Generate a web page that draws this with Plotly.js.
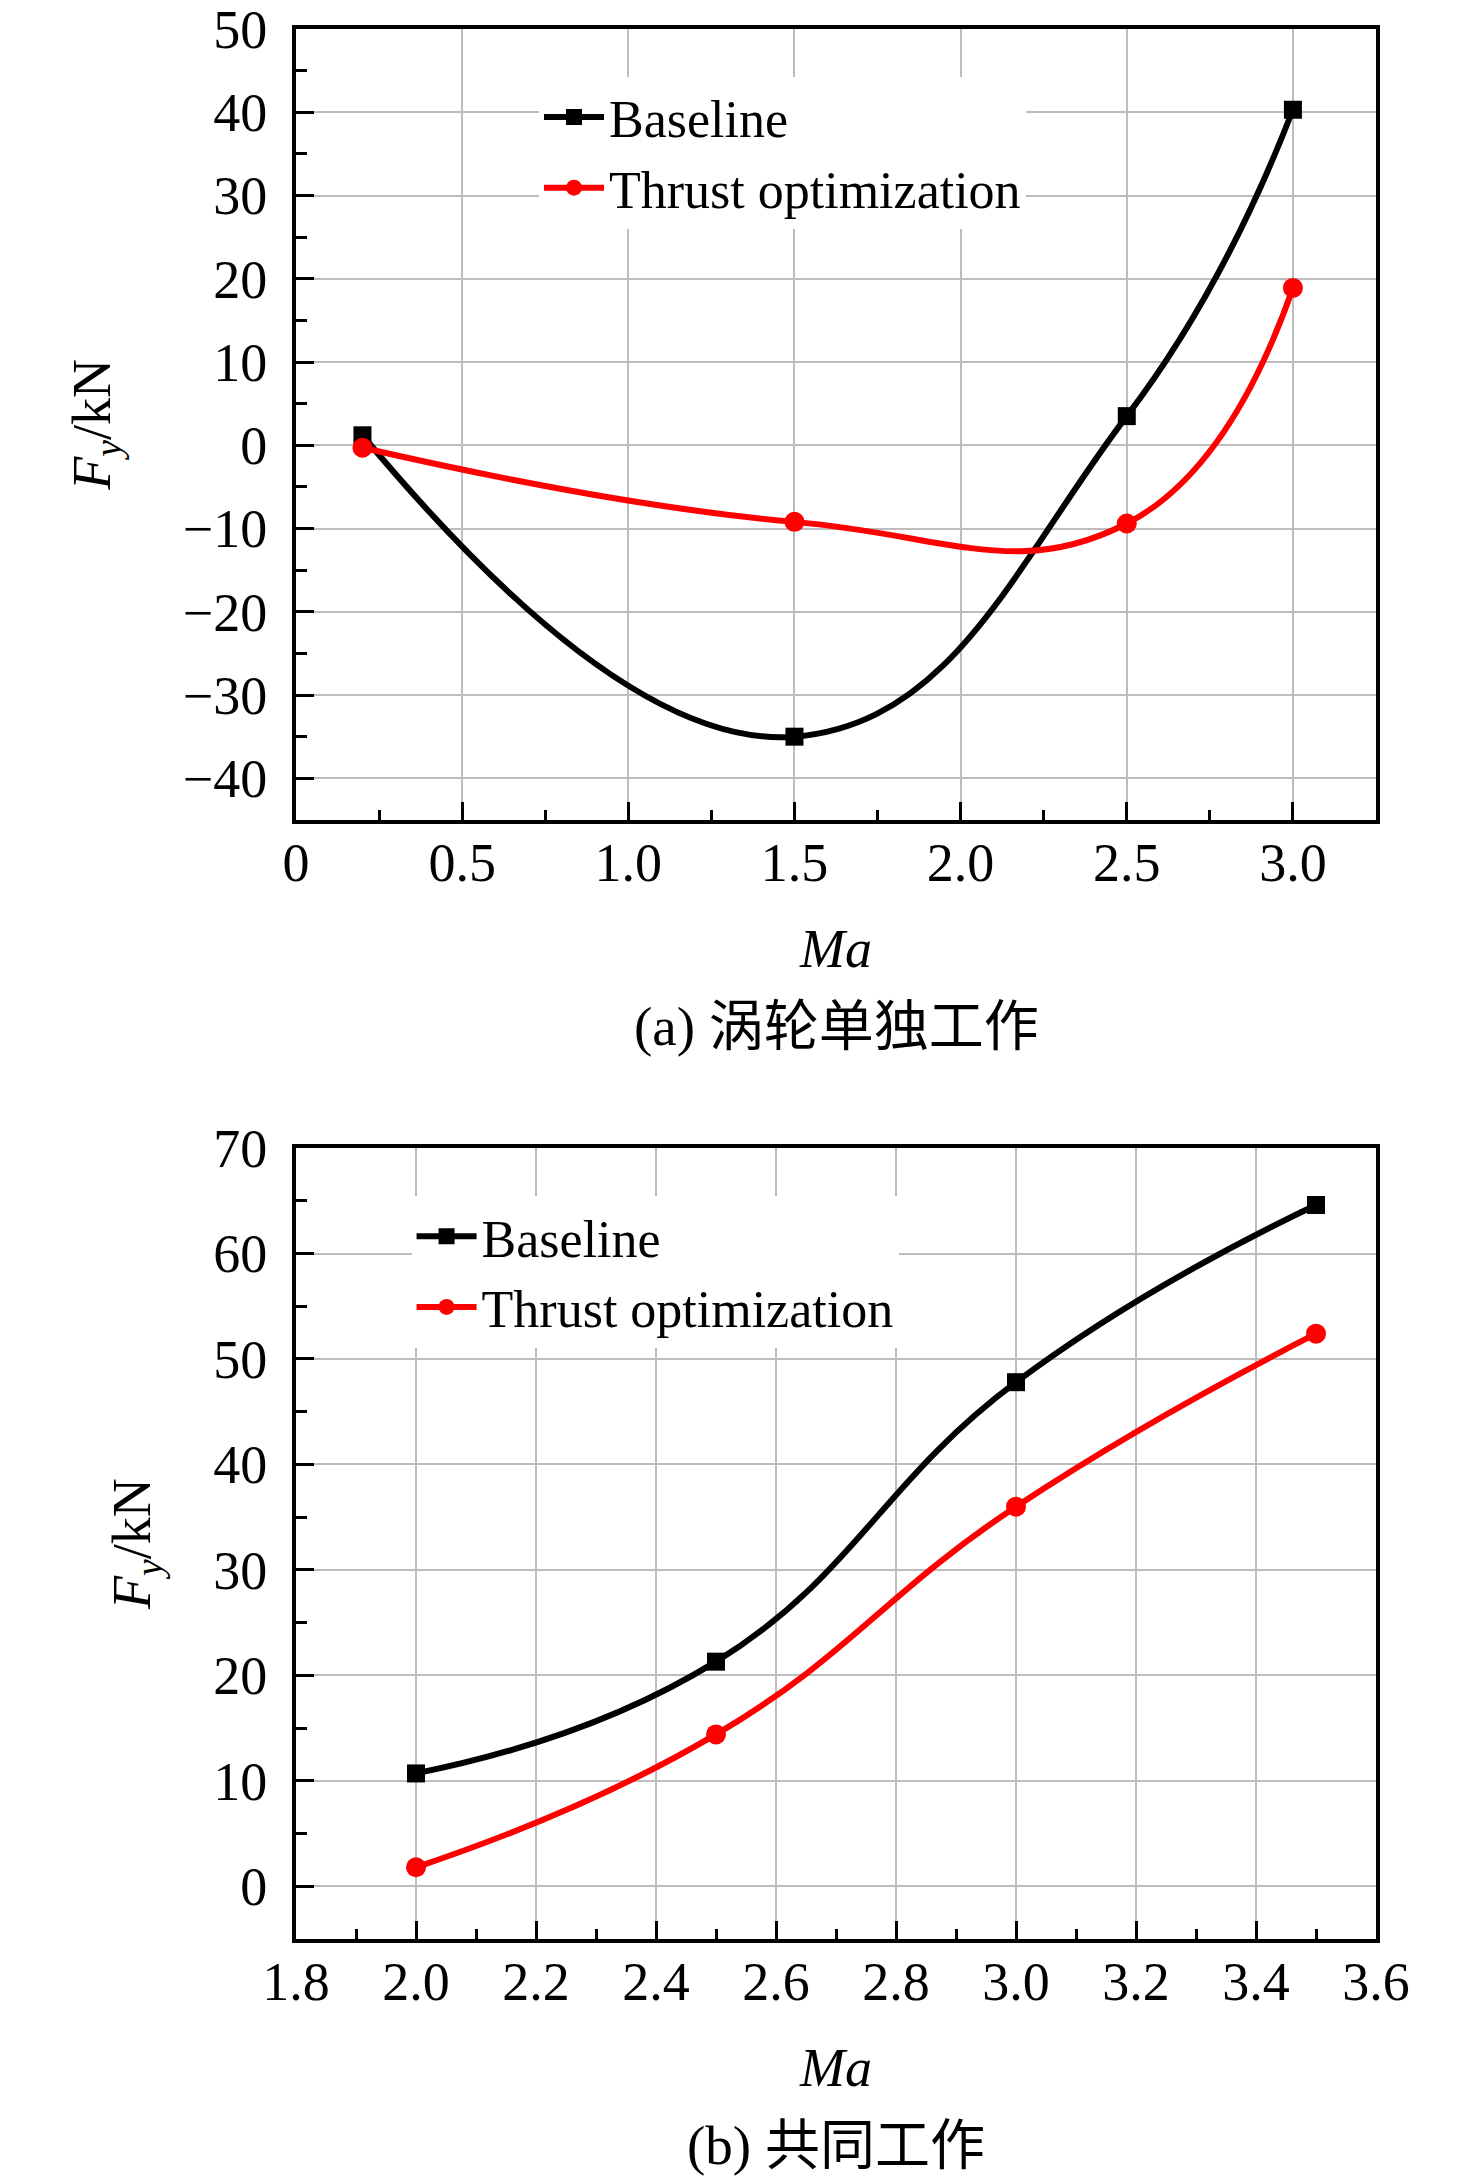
<!DOCTYPE html>
<html>
<head>
<meta charset="utf-8">
<script src="https://cdn.plot.ly/plotly-3.0.1.min.js"></script>
<style>
  body { margin: 0; background: #fff; }
  #chart { width: 1476px; height: 2180px; }
</style>
</head>
<body>
<div id="chart"></div>
<script>
// (a) turbine working alone
var maA = [0.2, 1.5, 2.5, 3.0];
var baselineA = [1.2, -35.0, 3.5, 40.3];
var thrustA = [-0.3, -9.2, -9.4, 18.9];

// (b) working together
var maB = [2.0, 2.5, 3.0, 3.5];
var baselineB = [10.7, 21.3, 47.8, 64.6];
var thrustB = [1.8, 14.4, 36.0, 52.4];

var xTicksA = [0, 0.5, 1.0, 1.5, 2.0, 2.5, 3.0];
var xLabelsA = ["0", "0.5", "1.0", "1.5", "2.0", "2.5", "3.0"];
var yTicksA = [-40, -30, -20, -10, 0, 10, 20, 30, 40, 50];
var yLabelsA = ["\u221240", "\u221230", "\u221220", "\u221210", "0", "10", "20", "30", "40", "50"];

var xTicksB = [1.8, 2.0, 2.2, 2.4, 2.6, 2.8, 3.0, 3.2, 3.4, 3.6];
var xLabelsB = ["1.8", "2.0", "2.2", "2.4", "2.6", "2.8", "3.0", "3.2", "3.4", "3.6"];
var yTicksB = [0, 10, 20, 30, 40, 50, 60, 70];
var yLabelsB = ["0", "10", "20", "30", "40", "50", "60", "70"];

var serif = "Liberation Serif, Times New Roman, serif";
var cjk = "Liberation Serif, Noto Sans CJK SC, serif";

function series(x, y, name, color, symbol, xa, ya, leg) {
    return {
        x: x, y: y, name: name,
        xaxis: xa, yaxis: ya, legend: leg,
        type: "scatter", mode: "lines+markers",
        line: { color: color, width: 6, shape: "spline", smoothing: 1.3 },
        marker: { color: color, symbol: symbol, size: symbol == "square" ? 18 : 20 }
    };
}

var data = [
    series(maA, baselineA, "Baseline", "#000000", "square", "x", "y", "legend"),
    series(maA, thrustA, "Thrust optimization", "#ff0000", "circle", "x", "y", "legend"),
    series(maB, baselineB, "Baseline", "#000000", "square", "x2", "y2", "legend2"),
    series(maB, thrustB, "Thrust optimization", "#ff0000", "circle", "x2", "y2", "legend2")
];

function xAxis(range, vals, text, minorStep, anchor) {
    return {
        anchor: anchor, range: range,
        tickmode: "array", tickvals: vals, ticktext: text,
        ticks: "inside", ticklen: 18, tickwidth: 3, tickcolor: "#000",
        ticklabelstandoff: -8, ticklabeloverflow: "allow",
        minor: { dtick: minorStep, ticks: "inside", ticklen: 10, tickwidth: 3, tickcolor: "#000", showgrid: false },
        showline: true, linecolor: "#000", linewidth: 4, mirror: true,
        showgrid: true, gridcolor: "#bdbdbd", gridwidth: 2,
        zeroline: false,
        tickfont: { family: serif, size: 54, color: "#000" },
        title: { text: "<i>Ma</i>", font: { family: serif, size: 54, color: "#000" }, standoff: 38 }
    };
}

function yAxis(range, vals, text, anchor, domain, standoff) {
    return {
        anchor: anchor, range: range, domain: domain,
        tickmode: "array", tickvals: vals, ticktext: text,
        ticks: "inside", ticklen: 18, tickwidth: 3, tickcolor: "#000",
        ticklabelstandoff: 14, ticklabeloverflow: "allow",
        minor: { dtick: 5, ticks: "inside", ticklen: 11, tickwidth: 3, tickcolor: "#000", showgrid: false },
        showline: true, linecolor: "#000", linewidth: 4, mirror: true,
        showgrid: true, gridcolor: "#bdbdbd", gridwidth: 2,
        zeroline: false,
        tickfont: { family: serif, size: 54, color: "#000" },
        title: { text: "<i>F</i><sub><i>y</i></sub>/kN", font: { family: serif, size: 54, color: "#000" }, standoff: standoff }
    };
}

var legendFont = { family: serif, size: 52, color: "#000" };

var layout = {
    width: 1476, height: 2180,
    margin: { l: 296, r: 100, t: 29, b: 241 },
    paper_bgcolor: "#ffffff", plot_bgcolor: "#ffffff",
    showlegend: true,
    xaxis: xAxis([0, 3.25], xTicksA, xLabelsA, 0.25, "y"),
    yaxis: yAxis([-45, 50], yTicksA, yLabelsA, "x", [0.5859, 1], 56),
    xaxis2: xAxis([1.8, 3.6], xTicksB, xLabelsB, 0.1, "y2"),
    yaxis2: yAxis([-5, 70], yTicksB, yLabelsB, "x2", [0, 0.4141], 46),
    legend: {
        x: 0.225, y: 0.975, xanchor: "left", yanchor: "top",
        bgcolor: "#ffffff", borderwidth: 0, font: legendFont,
        itemwidth: 60, tracegroupgap: 0
    },
    legend2: {
        x: 0.107, y: 0.389, xanchor: "left", yanchor: "top",
        bgcolor: "#ffffff", borderwidth: 0, font: legendFont,
        itemwidth: 60, tracegroupgap: 0
    },
    annotations: [
        { text: "(a) 涡轮单独工作", xref: "paper", yref: "paper", x: 0.5, y: 0.478,
          xanchor: "center", yanchor: "middle", showarrow: false,
          font: { family: cjk, size: 55, color: "#000" } },
        { text: "(b) 共同工作", xref: "paper", yref: "paper", x: 0.5, y: -0.108,
          xanchor: "center", yanchor: "middle", showarrow: false,
          font: { family: cjk, size: 55, color: "#000" } }
    ]
};

Plotly.newPlot("chart", data, layout, { displayModeBar: false, staticPlot: true });
</script>
</body>
</html>
